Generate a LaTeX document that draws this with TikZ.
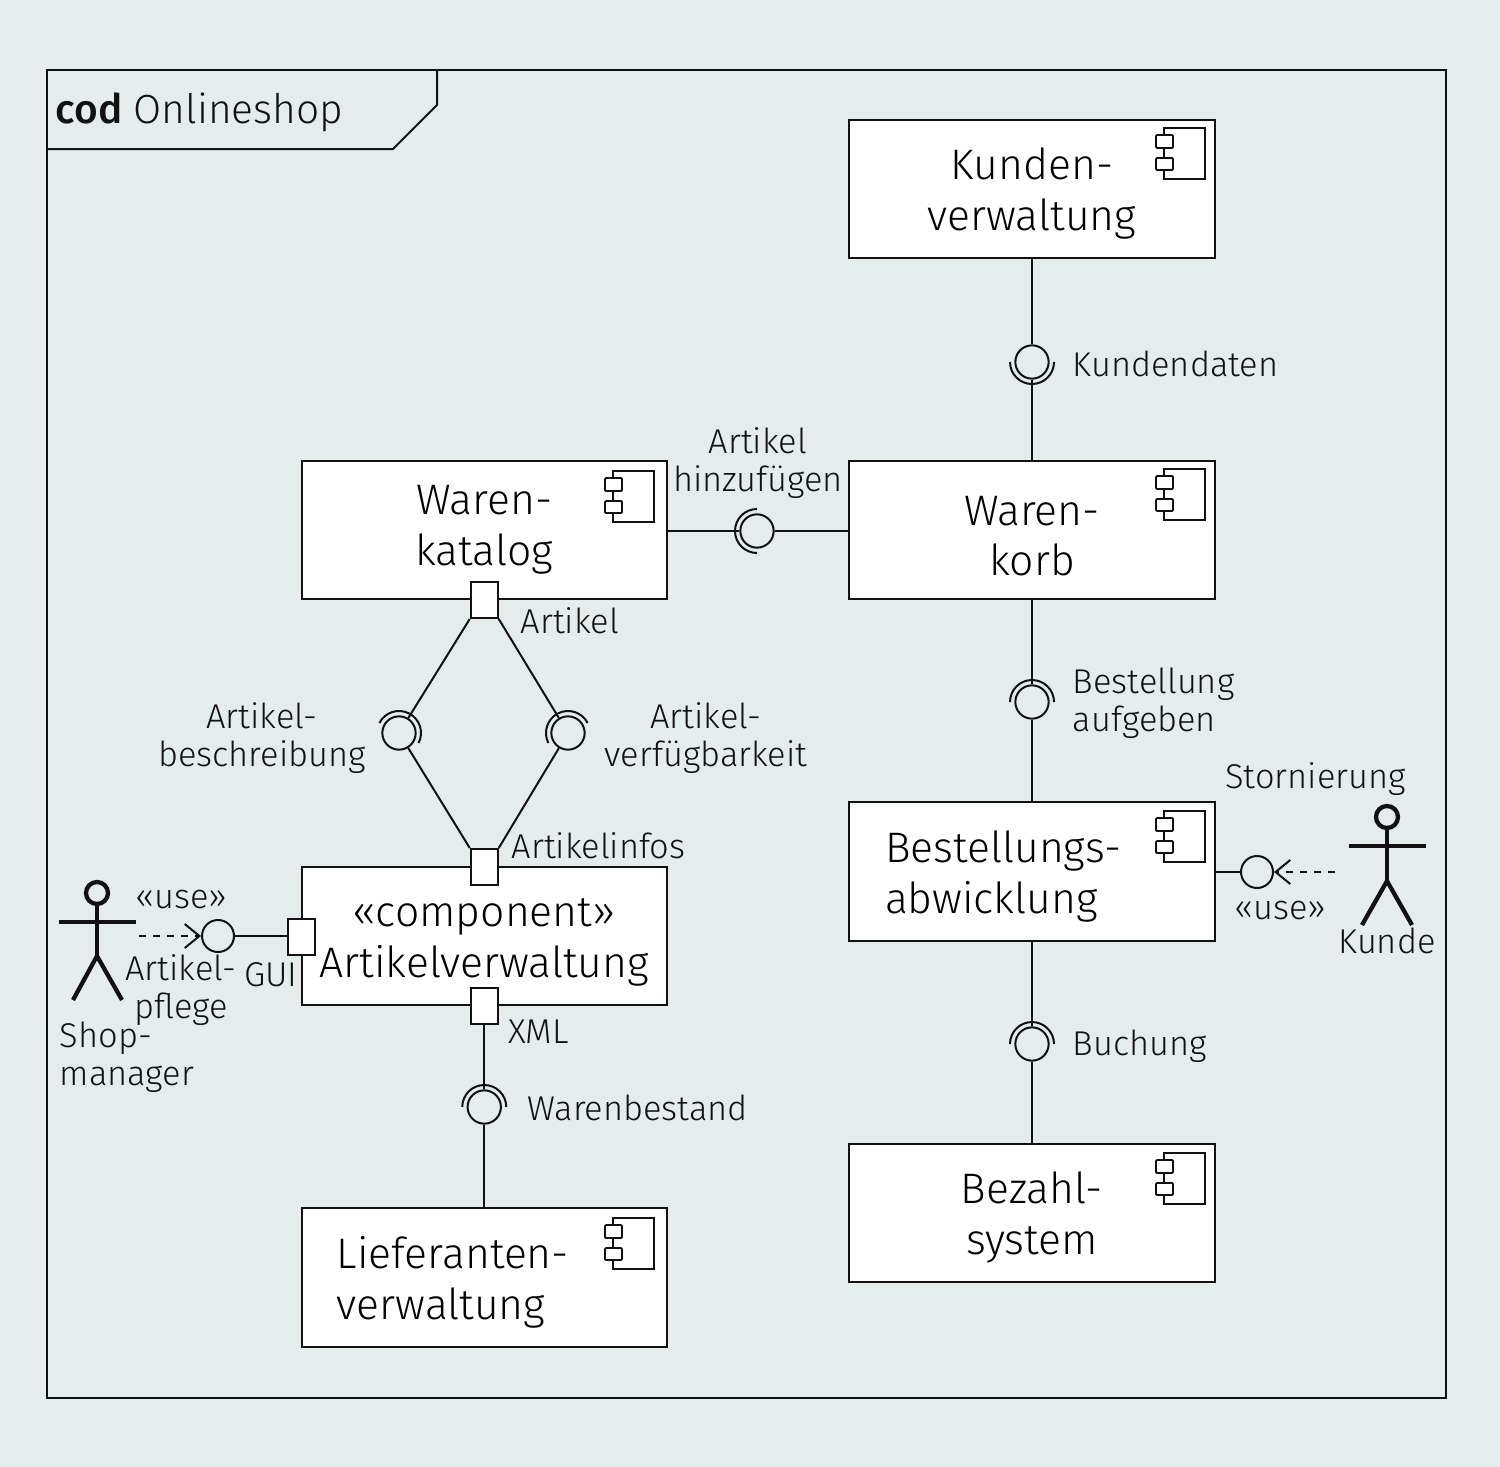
\documentclass[tikz,border=0pt]{standalone}
\usepackage{fontspec}
\setmainfont{Fira Sans}[UprightFont=* Light,BoldFont=* Medium]
\usetikzlibrary{arrows.meta}
\definecolor{bgc}{HTML}{E4EDEB}
\definecolor{ink}{HTML}{111111}
\newcommand\socketarc[3]{\draw[conn] (#1.center) ++(#2:16.5pt) arc[start angle=#2,end angle=#3,radius=16.5pt];}
\newcommand\lowertext{\rule{0pt}{31pt}}
\newcommand\compicon[2]{%
  \draw[icon] (#1,#2+7) -- (#1,#2) -- (#1+41,#2) -- (#1+41,#2+51) -- (#1,#2+51) -- (#1,#2+42);
  \draw[icon] (#1,#2+20) -- (#1,#2+30);
  \draw[icon,rounded corners=0.8pt] (#1-8,#2+7) rectangle (#1+9,#2+20);
  \draw[icon,rounded corners=0.8pt] (#1-8,#2+30) rectangle (#1+9,#2+42);
}
\tikzset{
  x=0.75pt,y=-0.75pt,
  conn/.style={draw=ink,line width=1.5pt},
  icon/.style={draw=ink,line width=1.4pt},
  compbox/.style={draw=ink,fill=white,line width=1.5pt,minimum width=274pt,minimum height=104pt,inner sep=0pt,font=\fontsize{32}{38}\selectfont,align=center},
  compleft/.style={compbox,align=left,text width=#1},
  port/.style={draw=ink,fill=white,line width=1.5pt,minimum width=20.25pt,minimum height=27pt,inner sep=0pt},
  ball/.style={circle,draw=ink,line width=1.5pt,minimum size=25pt,inner sep=0pt},
  lollipop/.style={circle,draw=ink,line width=1.5pt,minimum size=24pt,inner sep=0pt},
  lbl/.style={font=\fontsize{25.8}{28.5}\selectfont,inner sep=0pt,text=ink,anchor=west,align=left},
  lblc/.style={lbl,anchor=center,align=center},
  actorline/.style={draw=ink,line width=3.2pt},
  usedep/.style={draw=ink,line width=1.1pt,dash pattern=on 5.5pt off 5pt,-{Straight Barb[length=11pt,width=18pt,line width=1.5pt]}},
}
\begin{document}
\begin{tikzpicture}
\fill[bgc] (0,0) rectangle (1500,1467);
\useasboundingbox (0,0) rectangle (1500,1467);
\draw[draw=ink,line width=2.2pt] (47,70) rectangle (1446,1398);
\draw[conn] (47,149) -- (393,149) -- (437,105) -- (437,70);
\node[font=\fontsize{30.5}{36}\selectfont,inner sep=0pt,anchor=west,text=ink] (title) at (55.5,112) {\textbf{cod} Onlineshop};

\node[compbox] (kv) at (1032,189) {\lowertext Kunden-\\verwaltung};
\node[compbox] (wk) at (484.25,530) {Waren-\\katalog};
\node[compbox] (wb) at (1032,530) {\lowertext Waren-\\korb};
\node[compleft=220.5pt] (ba) at (1032,871.5) {\lowertext Bestellungs-\\abwicklung};
\node[compbox] (bs) at (1032,1213) {\lowertext Bezahl-\\system};
\node[compbox] (av) at (484.25,936) {\lowertext «component»\\Artikelverwaltung};
\node[compleft=221pt] (lv) at (484.25,1277.5) {\lowertext Lieferanten-\\verwaltung};

\compicon{613}{471}
\compicon{613}{1218}
\compicon{1164}{128}
\compicon{1164}{469}
\compicon{1164}{811}
\compicon{1164}{1153}

\node[port] (pa) at (484.25,600) {};
\node[port] (pi) at (484.25,867) {};
\node[port] (px) at (484.25,1006) {};
\node[port] (pg) at (301.5,936.5) {};

\node[ball] (ik) at (1032,362) {};
\node[ball] (ih) at (757,531) {};
\node[ball] (ib) at (399,733) {};
\node[ball] (iv) at (568,733) {};
\node[ball] (ia) at (1032,702) {};
\node[ball] (iu) at (1032,1044) {};
\node[ball] (iw) at (484.25,1107) {};
\node[lollipop] (ip) at (218,936) {};
\node[lollipop] (is) at (1257,872) {};

\socketarc{ik}{180}{360}
\socketarc{ih}{90}{270}
\socketarc{ib}{-27}{153}
\socketarc{iv}{27}{207}
\socketarc{ia}{0}{180}
\socketarc{iu}{0}{180}
\socketarc{iw}{0}{180}

\draw[conn] (kv.south) -- (ik);
\draw[conn] (wb.north) -- (ik);
\draw[conn] (wk.east |- ih) -- (ih);
\draw[conn] (wb.west |- ih) -- (ih);
\draw[conn] (wb.south) -- (ia);
\draw[conn] (ba.north) -- (ia);
\draw[conn] (ba.south) -- (iu);
\draw[conn] (bs.north) -- (iu);
\draw[conn] (pa.south west) -- (ib);
\draw[conn] (pi.north west) -- (ib);
\draw[conn] (pa.south east) -- (iv);
\draw[conn] (pi.north east) -- (iv);
\draw[conn] (px.south) -- (iw);
\draw[conn] (lv.north) -- (iw);
\draw[conn] (pg.west |- ip) -- (ip);
\draw[conn] (ba.east |- is) -- (is);

% actors
\node[circle,draw=ink,line width=3.2pt,minimum size=16.5pt,inner sep=0pt] (hs) at (97,893) {};
\draw[actorline] (hs.south) -- (97,956);
\draw[actorline] (59,922) -- (136,922);
\draw[actorline] (73,1000) -- (97,956) -- (122,1000);
\node[circle,draw=ink,line width=3.2pt,minimum size=16.5pt,inner sep=0pt] (hk) at (1387,817) {};
\draw[actorline] (hk.south) -- (1387,881);
\draw[actorline] (1349,846) -- (1426,846);
\draw[actorline] (1362,925) -- (1387,881) -- (1412,925);
\coordinate (ds) at (139,936);
\coordinate (dk) at (1335,872);
\draw[usedep] (ds) -- (ip);
\draw[usedep] (dk) -- (is);

% labels
\node[lbl] (l1) at (1072.5,364) {Kundendaten};
\node[lblc] (l2) at (758,463) {Artikel\\hinzufügen};
\node[lbl] (l3) at (520.5,621) {Artikel};
\node[lblc] (l4) at (262,738) {Artikel-\\beschreibung};
\node[lblc] (l5) at (706,738) {Artikel-\\verfügbarkeit};
\node[lbl] (l6) at (511.5,846) {Artikelinfos};
\node[lblc] (l7) at (181,899) {«use»};
\node[lblc] (l8) at (181,990) {Artikel-\\pflege};
\node[lbl] (l9) at (244,975) {GUI};
\node[lbl] (l10) at (59.5,1057) {Shop-\\manager};
\node[lbl] (l11) at (508,1032) {XML};
\node[lbl] (l12) at (527.5,1108) {Warenbestand};
\node[lbl] (l13) at (1072.5,703) {Bestellung\\aufgeben};
\node[lbl] (l14) at (1225,779) {Stornierung};
\node[lblc] (l15) at (1280,910) {«use»};
\node[lblc] (l16) at (1387,941) {Kunde};
\node[lbl] (l17) at (1072.5,1046) {Buchung};
\end{tikzpicture}
\end{document}
